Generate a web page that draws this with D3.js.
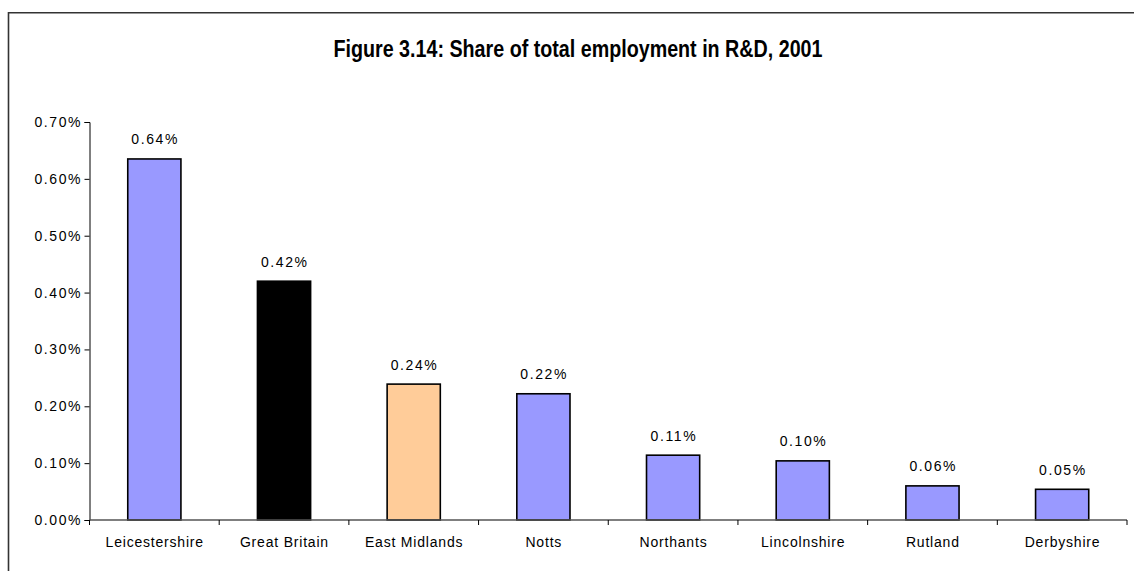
<!DOCTYPE html>
<html>
<head>
<meta charset="utf-8">
<script src="https://cdn.jsdelivr.net/npm/d3@7"></script>
<style>
  html, body { margin: 0; padding: 0; background: #fff; }
  svg { display: block; }
  text { font-family: "Liberation Sans", Arial, sans-serif; fill: #000; }
</style>
</head>
<body>
<svg id="chart" width="1134" height="571"></svg>
<script>
// Share of total employment in R&D, 2001 (percent)
const categories = ["Leicestershire", "Great Britain", "East Midlands", "Notts",
                    "Northants", "Lincolnshire", "Rutland", "Derbyshire"];
const shares = [0.635, 0.42, 0.239, 0.222, 0.114, 0.104, 0.060, 0.054];
const barColors = ["#9999FF", "#000000", "#FFCC99", "#9999FF",
                   "#9999FF", "#9999FF", "#9999FF", "#9999FF"];
const yTicks = [0, 0.1, 0.2, 0.3, 0.4, 0.5, 0.6, 0.7];
const title = "Figure 3.14: Share of total employment in R&D, 2001";

const svg = d3.select("#chart");

// Outer chart frame (runs off the right and bottom edges)
svg.append("path")
  .attr("d", "M8.5,1200 V12.75 H1200")
  .attr("fill", "none")
  .attr("stroke", "#333")
  .attr("stroke-width", 1.6);

// Title in a condensed bold face
svg.append("text")
  .attr("x", 578)
  .attr("y", 56.5)
  .attr("text-anchor", "middle")
  .attr("textLength", 489)
  .attr("lengthAdjust", "spacingAndGlyphs")
  .style("font-family", "'Liberation Sans Narrow', 'Arial Narrow', 'Liberation Sans', sans-serif")
  .style("font-weight", "bold")
  .style("font-size", "23.5px")
  .text(title);

const plot = { left: 89.5, right: 1127, top: 122, bottom: 520 };

const x = d3.scaleBand()
  .domain(categories)
  .range([plot.left, plot.right])
  .paddingInner(0.59)
  .paddingOuter(0.295);

const y = d3.scaleLinear()
  .domain([0, 0.7])
  .range([plot.bottom, plot.top]);

const fmt = v => v.toFixed(2) + "%";
const numSpacing = 1.6;

// Y axis
const yAxis = svg.append("g")
  .attr("transform", `translate(${plot.left},0)`)
  .call(d3.axisLeft(y).tickValues(yTicks).tickFormat(fmt).tickSize(5).tickPadding(4 - numSpacing));
yAxis.select(".domain").attr("stroke", "#000").attr("stroke-width", 1);
yAxis.selectAll(".tick line").attr("stroke", "#000");
yAxis.selectAll(".tick text")
  .style("font-family", "'Liberation Sans', Arial, sans-serif")
  .style("font-size", "14px")
  .style("letter-spacing", numSpacing + "px")
  .attr("fill", "#000");

// Bars
svg.append("g").selectAll("rect")
  .data(categories)
  .join("rect")
  .attr("x", d => x(d))
  .attr("width", x.bandwidth())
  .attr("y", (d, i) => y(shares[i]))
  .attr("height", (d, i) => y(0) - y(shares[i]))
  .attr("fill", (d, i) => barColors[i])
  .attr("stroke", "#000")
  .attr("stroke-width", 1.6);

// Value labels
svg.append("g").selectAll("text")
  .data(categories)
  .join("text")
  .attr("x", d => x(d) + x.bandwidth() / 2 + numSpacing / 2)
  .attr("y", (d, i) => y(shares[i]) - 14.5)
  .attr("text-anchor", "middle")
  .style("font-size", "14px")
  .style("letter-spacing", numSpacing + "px")
  .text((d, i) => fmt(shares[i]));

// X axis with ticks on band boundaries
const xAxisG = svg.append("g").attr("transform", `translate(0,${plot.bottom})`);
xAxisG.append("line")
  .attr("x1", plot.left).attr("x2", plot.right)
  .attr("stroke", "#555").attr("stroke-width", 1.6);
const boundaries = d3.range(categories.length + 1)
  .map(i => plot.left + i * (plot.right - plot.left) / categories.length);
xAxisG.selectAll(".bt")
  .data(boundaries)
  .join("line")
  .attr("x1", d => d).attr("x2", d => d)
  .attr("y1", 0).attr("y2", 5)
  .attr("stroke", "#000");
xAxisG.selectAll(".lbl")
  .data(categories)
  .join("text")
  .attr("x", d => x(d) + x.bandwidth() / 2 + 0.4)
  .attr("y", 27)
  .attr("text-anchor", "middle")
  .style("font-size", "14px")
  .style("letter-spacing", "0.8px")
  .text(d => d);
</script>
</body>
</html>
